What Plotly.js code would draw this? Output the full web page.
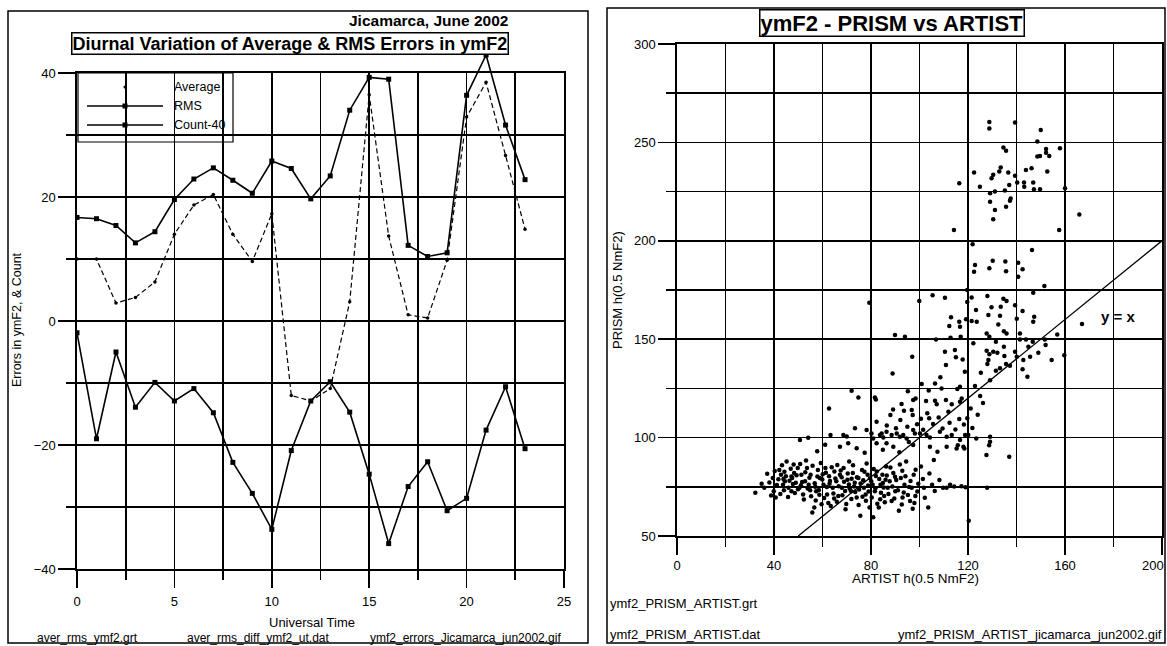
<!DOCTYPE html>
<html>
<head>
<meta charset="utf-8">
<script src="https://cdn.plot.ly/plotly-3.0.1.min.js"></script>
<style>
  html, body { margin: 0; padding: 0; background: #ffffff; }
  #chart { width: 1167px; height: 646px; }
</style>
</head>
<body>
<div id="chart"></div>
<script>
// ---- Diurnal errors, Jicamarca June 2002 (left panel) ----
const utHours = [0, 1, 2, 3, 4, 5, 6, 7, 8, 9, 10, 11, 12, 13, 14, 15, 16, 17, 18, 19, 20, 21, 22, 23];
const avgError = [10, 10, 2.9, 3.8, 6.3, 14, 18.7, 20.4, 14, 9.6, 17.3, -12, -12.9, -10.9, 3.1, 36.5, 13.7, 1.0, 0.5, 9.8, 32.9, 38.5, 26.7, 14.8];
const rmsError = [16.7, 16.5, 15.4, 12.6, 14.4, 19.6, 22.9, 24.7, 22.7, 20.6, 25.8, 24.6, 19.7, 23.4, 34, 39.3, 39, 12.2, 10.4, 11.0, 36.4, 42.9, 31.6, 22.8];
const countMinus40 = [-1.9, -19, -5, -13.9, -9.9, -12.9, -10.9, -14.8, -22.8, -27.8, -33.6, -20.9, -12.9, -9.8, -14.7, -24.7, -35.9, -26.7, -22.7, -30.6, -28.6, -17.6, -10.6, -20.6];
const utTicks = [0, 5, 10, 15, 20, 25];
const errTicks = [-40, -20, 0, 20, 40];

// ---- PRISM vs ARTIST h(0.5 NmF2), pairs of [ARTIST, PRISM] (right panel) ----
const pairsHigh = [[128.8,260.4],[128.8,257.0],[139.4,260.1],[150.0,256.3],[148.6,250.4],[134.6,247.4],[135.7,245.8],[152.2,246.7],[157.9,247.0],[148.6,242.8],[149.7,243.1],[153.5,243.1],[152.2,244.8],[133.5,237.2],[132.9,235.2],[122.5,234.7],[136.6,234.7],[139.4,233.0],[143.9,236.0],[146.2,236.9],[152.7,235.2],[129.7,231.8],[130.4,233.5],[116.4,229.2],[124.9,227.5],[129.1,224.2],[131.1,225.0],[135.2,225.5],[137.0,228.4],[140.3,229.6],[143.1,229.6],[143.2,227.5],[146.9,229.6],[147.2,226.2],[149.7,226.2],[160.0,226.7],[137.6,221.5],[129.1,219.9],[131.1,215.6],[135.7,217.3],[137.3,220.4],[130.4,210.9],[165.9,213.4],[114.2,205.5],[157.6,205.5]];
const pairsMid = [[121.9,198.2],[146.4,195.3],[130.2,189.9],[135.4,189.5],[140.7,188.9],[122.9,187.7],[128.8,186.0],[135.7,184.5],[142.5,185.5],[122.5,184.3],[140.7,181.7],[119.7,175.0],[151.5,177.0],[146.9,173.6],[105.4,172.3],[110.5,171.1],[99.9,169.4],[128.0,171.9],[134.6,170.6],[135.9,169.4],[119.7,168.9],[121.5,171.2],[139.4,167.2],[129.7,166.2],[133.5,166.5],[123.3,164.8],[142.5,164.3],[113.0,161.1],[116.4,158.9],[119.2,160.1],[121.5,159.2],[123.6,158.9],[128.4,162.3],[133.2,161.9],[140.1,160.4],[147.3,161.4],[146.9,158.9],[167.0,157.7],[112.3,156.7],[116.7,156.3],[132.5,157.5],[134.8,154.1],[135.9,152.9],[89.9,152.1],[94.0,151.3],[106.8,149.9],[112.8,150.7],[117.0,151.3],[122.2,147.9],[127.7,152.9],[128.8,151.3],[131.5,148.7],[134.8,146.2],[141.4,152.9],[141.4,149.9],[143.9,149.9],[144.9,146.2],[146.7,148.7],[151.7,149.9],[156.8,152.4],[97.0,141.1],[110.5,143.6],[114.6,144.5],[115.0,140.8],[117.8,139.7],[127.7,144.1],[128.8,142.3],[130.4,143.6],[132.1,143.1],[135.0,141.4],[139.4,143.6],[140.1,141.1],[142.8,139.4],[145.6,141.1],[149.0,143.1],[152.0,147.0],[154.5,139.4],[159.7,141.9],[88.9,132.6],[110.9,136.9],[118.7,133.5],[125.3,133.0],[128.0,137.4],[128.4,139.4],[131.5,134.0],[133.2,135.2],[135.7,137.4],[137.3,136.5],[142.5,134.7],[144.5,130.9],[106.4,127.5],[109.1,125.0],[115.6,124.7],[116.7,125.9],[129.1,129.2],[97.4,119.1],[98.4,119.9],[102.7,118.6],[106.4,118.7],[107.1,117.0],[110.9,119.1],[113.3,117.0],[116.7,118.2],[117.4,119.9],[96.8,114.0],[97.2,111.5],[100.6,109.6],[104.0,109.8],[111.9,113.1],[116.4,109.4],[119.7,109.8],[121.1,114.8],[129.1,100.4],[129.1,97.9],[120.1,101.3],[79.3,168.5],[72.0,123.8],[74.8,120.4],[81.6,120.4],[82.0,119.4],[62.7,114.8],[82.3,108.1],[73.4,104.7],[63.3,101.3],[50.7,98.8],[54.1,99.9],[68.6,101.3],[70.0,100.5],[70.6,97.1],[78.2,103.8],[80.2,102.1],[80.9,99.6],[83.7,101.3],[85.1,100.1],[67.2,95.4],[82.3,97.1],[84.4,102.1],[86.4,103.0],[88.5,101.3],[90.6,102.1],[91.9,100.4],[93.3,101.3],[94.7,99.6],[97.4,103.8],[98.1,102.1],[100.2,102.1],[102.9,101.3],[104.3,100.1],[108.4,103.0],[111.2,100.4],[113.3,101.3],[116.7,98.8],[118.8,101.3],[86.4,97.1],[89.2,95.4],[97.4,96.2],[104.3,95.4],[111.2,95.4],[115.3,94.5],[118.1,95.4]];
const pairsMidExtra = [[86.5,106.2],[88.0,111.5],[90.3,104.8],[92.1,108.9],[93.6,113.7],[95.0,105.5],[99.0,106.8],[101.5,104.0],[103.2,112.4],[105.6,106.9],[107.9,110.2],[109.5,104.6],[112.4,107.5],[114.8,104.1],[118.3,106.7],[121.8,104.9],[123.4,99.6],[125.0,121.1],[122.9,126.2],[126.2,117.6],[124.0,111.6],[108.6,130.7],[103.8,123.9],[100.9,127.2],[95.2,123.6],[92.6,117.1],[89.1,114.3],[77.4,92.3],[74.1,94.6],[84.9,93.8],[91.7,92.6],[95.6,97.8],[61.1,96.4],[57.8,93.1]];
const pairsLow = [[32.3,72.0],[34.9,76.6],[37.2,81.6],[39.5,79.5],[39.9,72.8],[40.7,69.5],[42.2,83.6],[42.9,81.1],[43.7,76.1],[44.5,77.8],[45.2,87.8],[46.0,74.5],[47.2,72.8],[47.5,79.5],[48.3,82.0],[49.0,77.0],[49.8,84.5],[50.5,74.5],[51.3,81.1],[52.0,71.1],[52.8,77.8],[53.6,84.5],[54.3,76.1],[55.1,81.1],[55.8,62.0],[56.6,64.5],[57.4,72.8],[58.1,83.6],[58.9,79.5],[59.6,66.1],[60.4,76.1],[61.2,84.5],[61.9,71.1],[62.7,80.3],[63.4,65.3],[64.2,74.5],[64.9,82.8],[65.7,77.8],[66.5,70.3],[67.2,81.1],[68.0,74.5],[68.7,84.5],[69.5,63.6],[70.3,78.6],[71.0,87.8],[71.8,72.8],[72.5,82.0],[73.3,77.0],[74.1,69.5],[74.8,79.5],[75.6,60.3],[76.3,83.6],[77.1,74.5],[77.8,71.1],[78.6,81.1],[79.4,64.5],[80.1,77.8],[80.9,59.5],[81.6,72.8],[82.4,82.8],[83.2,64.5],[83.9,76.1],[84.7,81.1],[85.4,70.3],[86.2,85.3],[86.9,74.5],[87.7,77.8],[88.5,67.8],[89.2,82.0],[90.0,72.8],[91.5,62.8],[92.3,79.5],[93.0,69.5],[93.8,76.1],[94.5,87.8],[96.1,67.8],[96.8,74.5],[97.6,81.1],[98.3,70.3],[99.5,76.5],[100.6,85.3],[103.6,64.5],[105.2,76.1],[109.7,74.5],[111.2,74.5],[117.3,75.3],[120.3,57.8],[127.9,74.5],[127.6,91.1],[128.7,96.1],[137.0,90.3],[105.9,88.6],[107.4,92.8],[118.5,94.5],[115.8,96.1]];
const pairsCore = [[36.0,74.5],[38.1,77.2],[38.8,70.6],[40.3,83.0],[41.2,75.9],[41.8,78.8],[42.6,71.4],[43.3,86.0],[44.1,73.2],[44.9,80.4],[45.8,69.8],[46.4,78.1],[46.9,84.2],[47.8,76.4],[48.6,71.9],[49.3,80.9],[49.9,73.7],[50.8,86.6],[51.6,77.4],[52.3,68.5],[52.9,82.4],[53.9,74.1],[54.6,79.6],[55.3,70.2],[55.9,85.7],[56.8,76.8],[57.2,68.1],[57.9,80.2],[58.5,73.4],[59.3,87.1],[59.9,78.7],[60.7,69.3],[61.4,82.1],[61.8,74.9],[62.4,66.8],[63.1,78.0],[63.8,84.9],[64.5,71.6],[65.3,79.2],[65.9,67.4],[66.7,75.3],[67.5,83.3],[68.2,70.7],[68.9,77.6],[69.8,66.2],[70.4,81.7],[71.2,74.0],[71.9,68.8],[72.6,85.9],[73.5,72.3],[74.2,79.9],[74.9,65.7],[75.7,76.7],[76.5,70.0],[77.3,82.6],[77.9,67.9],[78.8,75.6],[79.6,79.3],[80.3,69.6],[81.1,84.0],[81.8,74.2],[82.6,66.4],[83.4,79.0],[84.1,72.0],[84.9,76.9],[85.7,67.2],[86.5,80.7],[87.2,71.3],[88.0,84.8],[88.8,75.1],[89.6,69.0],[90.4,78.4],[91.1,73.3],[91.9,86.3],[92.7,66.0],[93.5,72.1],[94.2,80.3],[95.2,70.8],[96.3,77.9],[97.2,63.9],[98.4,83.7],[99.1,72.6],[101.4,78.9],[102.2,69.4],[104.1,81.8],[106.3,72.9],[108.2,78.5],[112.6,76.0],[114.3,75.1],[119.0,74.8],[101.8,74.5],[97.9,66.8],[44.3,82.6],[48.1,86.3],[53.2,88.4],[57.0,75.0],[60.1,81.4],[62.9,76.6],[66.1,86.1],[69.3,72.9],[72.0,79.1],[75.1,73.6],[78.2,86.9],[80.7,76.1],[83.8,68.7],[86.0,78.6],[89.9,80.1],[92.9,83.1],[95.7,74.9],[67.9,79.8],[64.8,69.1],[58.7,70.9],[54.9,73.3],[51.1,75.8],[47.2,80.2],[43.9,78.9],[70.9,76.2],[76.8,78.3],[73.0,75.2],[79.0,72.6],[82.0,80.5],[85.2,74.6]];
const identityLine = [50, 200];
const artistTicks = [0, 40, 80, 120, 160, 200];
const artistTickText = ['0', '40', '80', '120', '160', ''];
const artistEdgeLabel = '200';
const prismTicks = [50, 100, 150, 200, 250, 300];

// ---- page geometry helpers (pixels -> paper fraction) ----
const W = 1167, H = 646;
const px = v => v / W;
const py = v => 1 - v / H;
const FONT = 'Liberation Sans, Arial, sans-serif';

// left plot box in pixels
const L = { x0: 77, x1: 564, yTop: 73, yBot: 569 };
// right plot box in pixels
const R = { x0: 677, x1: 1162, yTop: 44, yBot: 536 };

// RMS curve rises above the frame top, so it lives on an unclipped twin axis
const pxPerErr = (L.yBot - L.yTop) / 80;
const twinTop = 23;
const twinMax = 40 + (L.yTop - twinTop) / pxPerErr;

const allPairs = pairsHigh.concat(pairsMid, pairsMidExtra, pairsLow, pairsCore);
const artistH = allPairs.map(p => p[0]);
const prismH = allPairs.map(p => p[1]);

const traces = [
  { x: utHours, y: avgError, xaxis: 'x', yaxis: 'y', mode: 'lines+markers', name: 'Average',
    line: { color: '#000', width: 1.2, dash: '5px,3px' }, marker: { color: '#000', size: 3.5, symbol: 'circle' } },
  { x: utHours, y: countMinus40, xaxis: 'x', yaxis: 'y', mode: 'lines+markers', name: 'Count-40',
    line: { color: '#000', width: 1.6 }, marker: { color: '#000', size: 5, symbol: 'square' } },
  { x: utHours, y: rmsError, xaxis: 'x3', yaxis: 'y3', mode: 'lines+markers', name: 'RMS',
    line: { color: '#000', width: 1.6 }, marker: { color: '#000', size: 5, symbol: 'square' } },
  { x: identityLine, y: identityLine, xaxis: 'x2', yaxis: 'y2', mode: 'lines', name: 'y = x',
    line: { color: '#000', width: 1.3 } },
  { x: artistH, y: prismH, xaxis: 'x2', yaxis: 'y2', mode: 'markers', name: 'PRISM vs ARTIST',
    marker: { color: '#000', size: 4.5, symbol: 'circle' } }
];

const GRID_W = 1.7;
function minorGrid(step) {
  return { dtick: step, tick0: 0, ticks: 'outside', ticklen: 9, tickcolor: '#000', tickwidth: GRID_W,
           showgrid: true, gridcolor: '#000', gridwidth: GRID_W };
}
function axisStyle(extra) {
  return Object.assign({
    showline: true, mirror: true, linecolor: '#000', linewidth: 1.7,
    showgrid: true, gridcolor: '#000', gridwidth: GRID_W, zeroline: false,
    ticks: 'outside', ticklen: 17, tickwidth: GRID_W, tickcolor: '#000',
    tickfont: { family: FONT, size: 13, color: '#000' },
    fixedrange: true
  }, extra);
}

const layout = {
  width: W, height: H,
  margin: { l: 0, r: 0, t: 0, b: 0 },
  paper_bgcolor: '#fff', plot_bgcolor: 'rgba(0,0,0,0)',
  showlegend: false,
  font: { family: FONT, color: '#000' },
  xaxis: axisStyle({ domain: [px(L.x0), px(L.x1)], range: [0, 25], anchor: 'y', tickmode: 'array', tickvals: utTicks, ticklabelstandoff: 3, minor: minorGrid(2.5) }),
  yaxis: axisStyle({ domain: [py(L.yBot), py(L.yTop)], range: [-40, 40], anchor: 'x', tickmode: 'array', tickvals: errTicks, minor: minorGrid(10) }),
  xaxis3: { domain: [px(L.x0), px(L.x1)], range: [0, 25], anchor: 'y3', visible: false, fixedrange: true },
  yaxis3: { domain: [py(L.yBot), py(twinTop)], range: [-40, twinMax], anchor: 'x3', visible: false, fixedrange: true },
  xaxis2: axisStyle({ domain: [px(R.x0), px(R.x1)], range: [0, 200], anchor: 'y2', tickmode: 'array', tickvals: artistTicks, ticktext: artistTickText, minor: minorGrid(20) }),
  yaxis2: axisStyle({ domain: [py(R.yBot), py(R.yTop)], range: [50, 300], anchor: 'x2', tickmode: 'array', tickvals: prismTicks, minor: minorGrid(25) }),
  shapes: [
    // panel frames
    { type: 'rect', xref: 'paper', yref: 'paper', x0: px(8), x1: px(588), y0: py(643), y1: py(11), line: { color: '#000', width: 1.5 } },
    { type: 'rect', xref: 'paper', yref: 'paper', x0: px(607), x1: px(1165), y0: py(643), y1: py(8), line: { color: '#000', width: 1.5 } },
    // legend box and keys
    { type: 'rect', xref: 'paper', yref: 'paper', x0: px(78), x1: px(233), y0: py(142), y1: py(73), line: { color: '#000', width: 1.2 } },
    { type: 'line', xref: 'paper', yref: 'paper', x0: px(87), x1: px(163), y0: py(106), y1: py(106), line: { color: '#000', width: 1.6 } },
    { type: 'line', xref: 'paper', yref: 'paper', x0: px(87), x1: px(163), y0: py(125), y1: py(125), line: { color: '#000', width: 1.6 } },
    { type: 'rect', xref: 'paper', yref: 'paper', x0: px(122.5), x1: px(127.5), y0: py(108.5), y1: py(103.5), fillcolor: '#000', line: { width: 0 } },
    { type: 'rect', xref: 'paper', yref: 'paper', x0: px(122.5), x1: px(127.5), y0: py(127.5), y1: py(122.5), fillcolor: '#000', line: { width: 0 } },
    { type: 'circle', xref: 'paper', yref: 'paper', x0: px(123.5), x1: px(126.5), y0: py(88.5), y1: py(85.5), fillcolor: '#000', line: { width: 0 } }
  ],
  annotations: [
    { xref: 'paper', yref: 'paper', x: px(510), y: py(20), xanchor: 'right', yanchor: 'middle', showarrow: false,
      text: '<b>Jicamarca, June 2002</b>', font: { family: FONT, size: 15.5, color: '#000' } },
    { xref: 'paper', yref: 'paper', x: px(289.5), y: py(43.5), xanchor: 'center', yanchor: 'middle', showarrow: false,
      text: '<b>Diurnal Variation of Average &amp; RMS Errors in ymF2</b>', font: { family: FONT, size: 18, color: '#000' },
      bordercolor: '#000', borderwidth: 1.5, borderpad: 0, bgcolor: '#fff' },
    { xref: 'paper', yref: 'paper', x: px(172), y: py(87), xanchor: 'left', yanchor: 'middle', showarrow: false,
      text: 'Average', font: { family: FONT, size: 12.5, color: '#000' } },
    { xref: 'paper', yref: 'paper', x: px(172), y: py(106), xanchor: 'left', yanchor: 'middle', showarrow: false,
      text: 'RMS', font: { family: FONT, size: 12.5, color: '#000' } },
    { xref: 'paper', yref: 'paper', x: px(172), y: py(125), xanchor: 'left', yanchor: 'middle', showarrow: false,
      text: 'Count-40', font: { family: FONT, size: 12.5, color: '#000' } },
    { xref: 'paper', yref: 'paper', x: px(17), y: py(320), xanchor: 'center', yanchor: 'middle', showarrow: false, textangle: -90,
      text: 'Errors in ymF2, &amp; Count', font: { family: FONT, size: 12.5, color: '#000' } },
    { xref: 'paper', yref: 'paper', x: px(312), y: py(622), xanchor: 'center', yanchor: 'middle', showarrow: false,
      text: 'Universal Time', font: { family: FONT, size: 13, color: '#000' } },
    { xref: 'paper', yref: 'paper', x: px(35), y: py(638), xanchor: 'left', yanchor: 'middle', showarrow: false,
      text: 'aver_rms_ymf2.grt', font: { family: FONT, size: 12, color: '#000' } },
    { xref: 'paper', yref: 'paper', x: px(185), y: py(638), xanchor: 'left', yanchor: 'middle', showarrow: false,
      text: 'aver_rms_diff_ymf2_ut.dat', font: { family: FONT, size: 12, color: '#000' } },
    { xref: 'paper', yref: 'paper', x: px(368), y: py(638), xanchor: 'left', yanchor: 'middle', showarrow: false,
      text: 'ymf2_errors_Jicamarca_jun2002.gif', font: { family: FONT, size: 12, color: '#000' } },

    { xref: 'paper', yref: 'paper', x: px(891.5), y: py(23), xanchor: 'center', yanchor: 'middle', showarrow: false,
      text: '<b>ymF2 - PRISM vs ARTIST</b>', font: { family: FONT, size: 22, color: '#000' },
      bordercolor: '#000', borderwidth: 1.5, borderpad: 0, bgcolor: '#fff' },
    { xref: 'paper', yref: 'paper', x: px(1166), y: py(565), xanchor: 'right', yanchor: 'middle', showarrow: false,
      text: artistEdgeLabel, font: { family: FONT, size: 13, color: '#000' } },
    { xref: 'paper', yref: 'paper', x: px(617), y: py(290), xanchor: 'center', yanchor: 'middle', showarrow: false, textangle: -90,
      text: 'PRISM h(0.5 NmF2)', font: { family: FONT, size: 13, color: '#000' } },
    { xref: 'paper', yref: 'paper', x: px(915), y: py(578), xanchor: 'center', yanchor: 'middle', showarrow: false,
      text: 'ARTIST h(0.5 NmF2)', font: { family: FONT, size: 13.5, color: '#000' } },
    { xref: 'x2', yref: 'y2', x: 182, y: 161.4, xanchor: 'center', yanchor: 'middle', showarrow: false,
      text: '<b>y = x</b>', font: { family: FONT, size: 15, color: '#000' } },
    { xref: 'paper', yref: 'paper', x: px(608), y: py(603), xanchor: 'left', yanchor: 'middle', showarrow: false,
      text: 'ymf2_PRISM_ARTIST.grt', font: { family: FONT, size: 13, color: '#000' } },
    { xref: 'paper', yref: 'paper', x: px(608), y: py(634), xanchor: 'left', yanchor: 'middle', showarrow: false,
      text: 'ymf2_PRISM_ARTIST.dat', font: { family: FONT, size: 13, color: '#000' } },
    { xref: 'paper', yref: 'paper', x: px(1164), y: py(634), xanchor: 'right', yanchor: 'middle', showarrow: false,
      text: 'ymf2_PRISM_ARTIST_jicamarca_jun2002.gif', font: { family: FONT, size: 13, color: '#000' } }
  ]
};

Plotly.newPlot('chart', traces, layout, { staticPlot: true, displayModeBar: false });
</script>
</body>
</html>
